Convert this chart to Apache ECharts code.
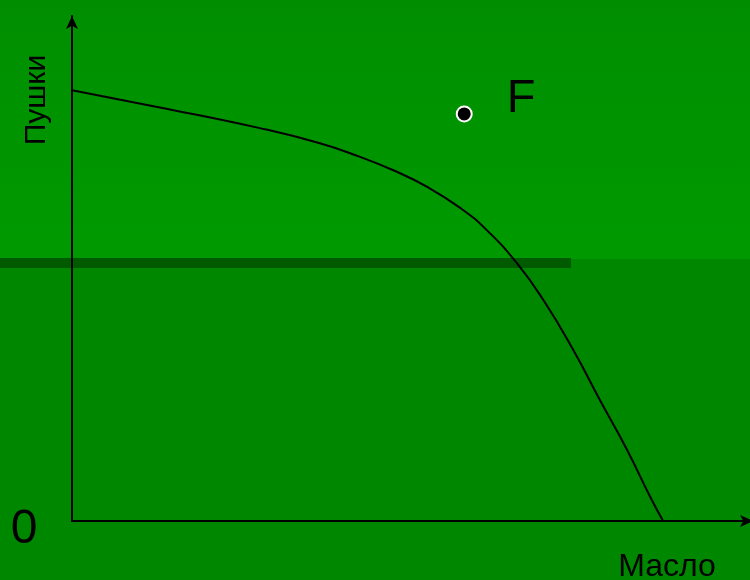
<!DOCTYPE html>
<html>
<head>
<meta charset="utf-8">
<script src="https://cdn.jsdelivr.net/npm/echarts@6/dist/echarts.min.js"></script>
<style>
    html, body { margin: 0; padding: 0; }
    #main { width: 750px; height: 580px; }
</style>
</head>
<body>
<div id="main"></div>
<script>
    // кривая производственных возможностей
    let curveX = [0, 12.96, 27.72, 36.56, 42.49, 47.31, 52.33, 57.25, 61.17, 65.59, 69.5, 73.92, 77.84, 81.86, 85.27, 87.18];
    let curveY = [85.3, 81.9, 77.8, 74.8, 72.1, 69.5, 66.2, 62.0, 57.6, 51.1, 43.8, 33.9, 24.0, 14.1, 4.8, 0];
    // точка F
    let pointF = [57.85, 80.6];
    let pointName = 'F';
    let xName = 'Масло';
    let yName = 'Пушки';
    let originLabel = '0';

    let curveData = curveX.map(function (x, i) { return [x, curveY[i]]; });

    let myChart = echarts.init(document.getElementById('main'));

    function axis(offset) {
        return {
            type: 'value',
            min: 0,
            max: 100,
            splitLine: {show: false},
            axisTick: {show: false},
            axisLabel: {show: false},
            axisLine: {
                show: true,
                symbol: ['none', 'arrow'],
                symbolSize: [9, 13],
                symbolOffset: [0, offset],
                lineStyle: {color: '#000', width: 2}
            }
        };
    }

    myChart.setOption({
        backgroundColor: '#008700',
        animation: false,
        grid: {left: 72, right: 0, top: 16, bottom: 59},
        xAxis: axis(3),
        yAxis: axis(0),
        graphic: [
            {
                type: 'rect', z: -10, silent: true,
                shape: {x: 0, y: 0, width: 750, height: 259},
                style: {
                    fill: new echarts.graphic.LinearGradient(0, 0, 0, 1, [
                        {offset: 0, color: '#008e00'},
                        {offset: 1, color: '#009a00'}
                    ])
                }
            },
            {
                type: 'rect', z: -9, silent: true,
                shape: {x: 0, y: 258, width: 571, height: 10},
                style: {fill: '#005a00'}
            },
            {
                type: 'text', z: 100, x: 37, y: 100, rotation: Math.PI / 2,
                style: {text: yName, font: '30px "Liberation Sans", Arial, sans-serif', fill: '#000',
                    textAlign: 'center', textVerticalAlign: 'middle'}
            },
            {
                type: 'text', z: 100, x: 24, y: 530,
                style: {text: originLabel, font: '48px "Liberation Sans", Arial, sans-serif', fill: '#000',
                    textAlign: 'center', textVerticalAlign: 'middle'}
            },
            {
                type: 'text', z: 100, x: 667, y: 567,
                style: {text: xName, font: '32px "Liberation Sans", Arial, sans-serif', fill: '#000',
                    textAlign: 'center', textVerticalAlign: 'middle'}
            }
        ],
        series: [
            {
                type: 'line',
                data: curveData,
                smooth: 0.5,
                showSymbol: false,
                lineStyle: {color: '#000', width: 2}
            },
            {
                type: 'scatter',
                data: [pointF],
                symbolSize: 15,
                itemStyle: {color: '#000', borderColor: '#fff', borderWidth: 2, opacity: 1},
                label: {
                    show: true,
                    formatter: pointName,
                    position: 'right',
                    distance: 34,
                    offset: [0, -15],
                    fontSize: 47,
                    fontFamily: '"Liberation Sans", Arial, sans-serif',
                    color: '#000'
                }
            }
        ]
    });
</script>
</body>
</html>
